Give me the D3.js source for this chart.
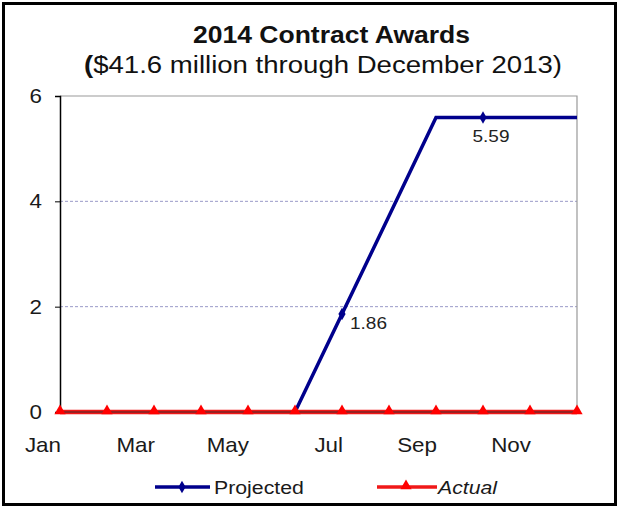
<!DOCTYPE html>
<html><head><meta charset="utf-8">
<script src="https://cdn.jsdelivr.net/npm/d3@7"></script>
<style>body{margin:0;background:#fff}svg{display:block}text{font-family:Arial,"Liberation Sans",sans-serif}</style>
</head><body>
<svg id="c" width="619" height="508"></svg>
<script>
const months = ["Jan","Feb","Mar","Apr","May","Jun","Jul","Aug","Sep","Oct","Nov","Dec"];
const projected = [0,0,0,0,0,0,1.86,3.72,5.59,5.59,5.59,5.59];
const actual = [0,0,0,0,0,0,0,0,0,0,0,0];
const labeledMonths = ["Jul","Oct"];
const yTicks = [0,2,4,6];
const xTickLabels = ["Jan","Mar","May","Jul","Sep","Nov"];
const titleText = "2014 Contract Awards";
const subtitleText = "$41.6 million through December 2013)";

const SX = 1.12; // horizontal stretch of the reference's text
const svg = d3.select("#c");
svg.append("rect").attr("x",3.5).attr("y",3.5).attr("width",612).attr("height",501)
  .attr("fill","#fff").attr("stroke","#000").attr("stroke-width",3);

const L=60, R=577, T=96, B=412;
const x = d3.scalePoint().domain(months).range([L,R]);
const y = d3.scaleLinear().domain([0,6]).range([B,T]);

function stxt(g, px, py, size){
  return g.append("text").attr("transform",`translate(${px},${py}) scale(${SX},1)`)
    .attr("font-size",size).attr("fill","#1a1a1a");
}

// gridlines
svg.append("g").selectAll("line").data(yTicks.filter(v=>v>0&&v<6)).join("line")
  .attr("x1",L).attr("x2",R).attr("y1",d=>y(d)).attr("y2",d=>y(d))
  .attr("stroke","#9a9ac8").attr("stroke-width",1).attr("stroke-dasharray","3,2");
// plot border top/right
svg.append("path").attr("d",`M${L},${y(6)}H${R}V${B}`).attr("fill","none").attr("stroke","#999").attr("stroke-width",1.2);

// y axis
const ya = svg.append("g").attr("transform",`translate(${L},0)`)
  .call(d3.axisLeft(y).tickValues(yTicks).tickSize(5).tickFormat(""));
ya.select(".domain").attr("stroke","#000").attr("stroke-width",1.5);
ya.selectAll(".tick line").attr("stroke","#000");
const yl = svg.append("g");
yTicks.forEach(v=>{
  stxt(yl, L-18, y(v)+7, 20).attr("text-anchor","end").text(d3.format("d")(v));
});

// x axis
const xa = svg.append("g").attr("transform",`translate(0,${B})`)
  .call(d3.axisBottom(x).tickValues(months).tickSize(0).tickFormat(""));
xa.select(".domain").attr("stroke","#000").attr("stroke-width",1.5);
const xl = svg.append("g");
xTickLabels.forEach(m=>{
  stxt(xl, x(m)+1, 452, 20).attr("text-anchor","end").text(m);
});

// projected
const line = d3.line().x((d,i)=>x(months[i])).y(d=>y(d));
svg.append("path").datum(projected).attr("d",line).attr("fill","none")
  .attr("stroke","#00008c").attr("stroke-width",3.5).attr("stroke-linejoin","miter");

// actual
svg.append("path").datum(actual).attr("d",line).attr("fill","none")
  .attr("stroke","#f01818").attr("stroke-width",4.5);
svg.append("path").datum(actual).attr("d",line).attr("fill","none")
  .attr("stroke","#9a2020").attr("stroke-width",1.8);
const tri = d3.symbol().type(d3.symbolTriangle).size(55);
svg.append("g").selectAll("path").data(actual).join("path")
  .attr("d",tri).attr("transform",(d,i)=>`translate(${x(months[i])},${y(d)-1})`).attr("fill","#ff0000");

// projected markers & labels
const dia = d3.symbol().type(d3.symbolDiamond).size(45);
const lab = months.map((m,i)=>({m,v:projected[i]})).filter(d=>labeledMonths.includes(d.m));
svg.append("g").selectAll("path").data(lab).join("path")
  .attr("d",dia).attr("transform",d=>`translate(${x(d.m)},${y(d.v)})`).attr("fill","#00008c");
const dl = svg.append("g");
lab.forEach(d=>{
  const t = d.m==="Jul" ? stxt(dl, x(d.m)+8, y(d.v)+15, 17).attr("text-anchor","start")
                        : stxt(dl, x(d.m)+8, y(d.v)+24, 17).attr("text-anchor","middle");
  t.attr("fill","#222").text(d3.format(".2f")(d.v));
});

// titles
svg.append("text").attr("x",193).attr("y",43)
  .attr("font-size",23).attr("font-weight","bold").attr("fill","#111")
  .attr("textLength",277).attr("lengthAdjust","spacingAndGlyphs").text(titleText);
const st = svg.append("text").attr("x",84).attr("y",73)
  .attr("font-size",23).attr("fill","#111")
  .attr("textLength",478).attr("lengthAdjust","spacingAndGlyphs");
st.append("tspan").attr("font-weight","bold").text("(");
st.append("tspan").text(subtitleText);

// legend
const lg = svg.append("g");
lg.append("line").attr("x1",155).attr("x2",210).attr("y1",487).attr("y2",487).attr("stroke","#00008c").attr("stroke-width",3.5);
lg.append("path").attr("d",dia).attr("transform","translate(182,487)").attr("fill","#00008c");
stxt(lg, 214, 494, 19).text("Projected");
lg.append("line").attr("x1",377).attr("x2",437).attr("y1",487).attr("y2",487).attr("stroke","#f01818").attr("stroke-width",3.5);
lg.append("path").attr("d",tri).attr("transform","translate(406,486)").attr("fill","#ff0000");
stxt(lg, 438, 494, 19).attr("font-style","italic").text("Actual");
</script>
</body></html>
